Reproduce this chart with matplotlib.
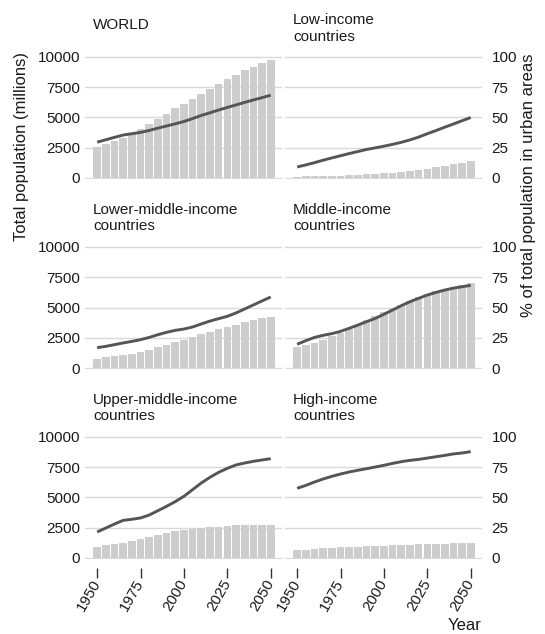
import matplotlib.pyplot as plt
from matplotlib import font_manager

# Jahre der Fünfjahresschritte (x-Achse)
YEARS = list(range(1950, 2051, 5))

# Gesamtbevölkerung in Millionen (Balken, linke Achse)
WORLD_POP = [2536, 2773, 3035, 3340, 3700, 4079, 4458, 4871, 5327, 5744, 6143,
             6542, 6957, 7380, 7795, 8184, 8549, 8888, 9199, 9482, 9780]
LOW_POP = [120, 130, 145, 160, 180, 205, 230, 260, 300, 340, 390,
           445, 510, 580, 660, 760, 870, 990, 1120, 1270, 1430]
LOWER_MIDDLE_POP = [770, 880, 965, 1075, 1185, 1350, 1515, 1710, 1900, 2120, 2340,
                    2560, 2780, 2975, 3195, 3390, 3580, 3775, 3965, 4105, 4240]
MIDDLE_POP = [1735, 1900, 2065, 2340, 2620, 2890, 3220, 3580, 3940, 4300, 4630,
              4930, 5230, 5540, 5840, 6115, 6340, 6560, 6720, 6890, 7050]
UPPER_MIDDLE_POP = [935, 1045, 1155, 1265, 1430, 1600, 1765, 1900, 2065, 2205, 2285,
                    2370, 2450, 2535, 2590, 2645, 2700, 2730, 2740, 2740, 2740]
HIGH_POP = [635, 690, 745, 800, 855, 880, 910, 935, 965, 990, 1020,
            1045, 1075, 1100, 1130, 1155, 1185, 1195, 1210, 1225, 1240]

# Anteil der Stadtbevölkerung in Prozent (Linie, rechte Achse)
WORLD_URBAN = [29.6, 31.6, 33.6, 35.5, 36.6, 37.7, 39.3, 41.2, 43.0, 44.8, 46.7,
               49.1, 51.7, 53.9, 56.2, 58.3, 60.4, 62.5, 64.5, 66.4, 68.4]
LOW_URBAN = [9.1, 10.8, 12.7, 14.7, 16.6, 18.4, 20.2, 21.9, 23.6, 24.9, 26.3,
             27.8, 29.5, 31.5, 33.8, 36.6, 39.2, 42.0, 44.6, 47.3, 50.0]
LOWER_MIDDLE_URBAN = [16.8, 17.9, 19.3, 20.7, 22.0, 23.4, 25.3, 27.5, 29.5, 31.1, 32.2,
                      33.9, 36.4, 38.8, 40.8, 42.7, 45.5, 48.8, 52.1, 55.4, 58.7]
MIDDLE_URBAN = [19.6, 22.6, 25.3, 27.0, 28.4, 30.3, 32.8, 35.5, 38.3, 41.0, 44.4,
                47.9, 51.5, 54.8, 57.6, 60.3, 62.5, 64.4, 66.0, 67.2, 68.3]
UPPER_MIDDLE_URBAN = [21.5, 24.8, 28.1, 31.1, 32.0, 33.1, 35.5, 39.1, 42.7, 46.6, 51.0,
                      56.5, 62.0, 66.7, 70.8, 74.1, 76.9, 78.5, 79.9, 81.0, 82.1]
HIGH_URBAN = [57.6, 60.0, 62.8, 65.3, 67.5, 69.4, 71.1, 72.5, 73.8, 75.2, 76.6,
              78.2, 79.6, 80.7, 81.5, 82.6, 83.7, 84.8, 86.0, 86.8, 87.9]

TITLES = ['WORLD', 'Low-income\ncountries',
          'Lower-middle-income\ncountries', 'Middle-income\ncountries',
          'Upper-middle-income\ncountries', 'High-income\ncountries']
POPULATIONS = [WORLD_POP, LOW_POP, LOWER_MIDDLE_POP, MIDDLE_POP, UPPER_MIDDLE_POP, HIGH_POP]
URBAN_SHARES = [WORLD_URBAN, LOW_URBAN, LOWER_MIDDLE_URBAN, MIDDLE_URBAN, UPPER_MIDDLE_URBAN, HIGH_URBAN]

POP_TICKS = [0, 2500, 5000, 7500, 10000]
PCT_TICKS = [0, 25, 50, 75, 100]
YEAR_TICKS = [1950, 1975, 2000, 2025, 2050]

W, H = 545, 634  # Bildgröße in Pixeln
COL_LEFT = [85, 285]  # linke Kante der Spalten (Pixel)
COL_WIDTH = 197
ROW_TOP = [57, 247, 437]  # Pixelzeile der 10000-Linie
ROW_ZERO = [178, 368, 558]  # Pixelzeile der 0-Linie
TITLE_BASE = [29, 41, 230.5, 230.5, 420.5, 420.5]  # Grundlinie der letzten Titelzeile

BAR_COLOR = '#cdcdcd'
LINE_COLOR = '#555555'
GRID_COLOR = '#d9d9d9'
TEXT_COLOR = '#1a1a1a'

# schmale Schrift, wenn vorhanden, sonst normale Liberation Sans etwas kleiner
installed = {f.name for f in font_manager.fontManager.ttflist}
if 'Liberation Sans Narrow' in installed:
    FONT, FS = 'Liberation Sans Narrow', 12
else:
    FONT, FS = 'Liberation Sans', 11

plt.rcParams['font.family'] = [FONT, 'DejaVu Sans']
plt.rcParams['font.size'] = FS
plt.rcParams['text.color'] = TEXT_COLOR

fig = plt.figure(figsize=(W / 100, H / 100), dpi=100)

MARGIN = 80  # etwas Luft, damit die 0- und 10000-Linie nicht abgeschnitten werden

for i, (title, pop, urban) in enumerate(zip(TITLES, POPULATIONS, URBAN_SHARES)):
    row, col = divmod(i, 2)
    px_per_unit = (ROW_ZERO[row] - ROW_TOP[row]) / 10000
    pad_px = MARGIN * px_per_unit
    top = ROW_TOP[row] - pad_px
    bottom = ROW_ZERO[row] + pad_px
    ax = fig.add_axes([COL_LEFT[col] / W, 1 - bottom / H, COL_WIDTH / W, (bottom - top) / H])
    ax2 = ax.twinx()

    ax.bar(YEARS, pop, width=4.4, color=BAR_COLOR, zorder=2)
    ax2.plot(YEARS, urban, color=LINE_COLOR, linewidth=2.1, solid_capstyle='butt')

    ax.set_xlim(1943, 2056.5)
    ax.set_ylim(-MARGIN, 10000 + MARGIN)
    ax2.set_ylim(-MARGIN / 100, 100 + MARGIN / 100)
    ax.set_yticks(POP_TICKS)
    ax2.set_yticks(PCT_TICKS)
    ax.set_xticks(YEAR_TICKS)

    ax.set_axisbelow(True)
    ax.grid(axis='y', color=GRID_COLOR, linewidth=1.0)
    for a in (ax, ax2):
        for spine in a.spines.values():
            spine.set_visible(False)

    ax.tick_params(axis='y', length=0, pad=3.5, labelleft=(col == 0), labelcolor=TEXT_COLOR)
    ax2.tick_params(axis='y', length=0, pad=7, labelright=(col == 1), labelcolor=TEXT_COLOR)

    if row == 2:
        # Striche unterhalb der Nulllinie, etwas abgesetzt
        ax.spines['bottom'].set_position(('outward', 6.5))
        ax.tick_params(axis='x', length=7.5, width=1.0, color='#333333', pad=1.5,
                       labelcolor=TEXT_COLOR)
        for lbl in ax.get_xticklabels():
            lbl.set_rotation(60)
            lbl.set_ha('right')
            lbl.set_va('center')
            lbl.set_rotation_mode('anchor')
    else:
        ax.tick_params(axis='x', bottom=False, labelbottom=False)
    ax2.tick_params(axis='x', bottom=False, labelbottom=False)

    fig.text((COL_LEFT[col] + 8) / W, 1 - TITLE_BASE[i] / H, title,
             ha='left', va='baseline', linespacing=1.25)

fig.text(22 / W, 1 - 146.5 / H, 'Total population (millions)', rotation=90,
         ha='center', va='center', fontsize=FS + 1)
fig.text(529 / W, 1 - 185.5 / H, '% of total population in urban areas', rotation=90,
         ha='center', va='center', fontsize=FS + 1)
fig.text(482 / W, 1 - 630 / H, 'Year', ha='right', va='baseline', fontsize=FS + 1)

fig.savefig('out.png', dpi=100)
